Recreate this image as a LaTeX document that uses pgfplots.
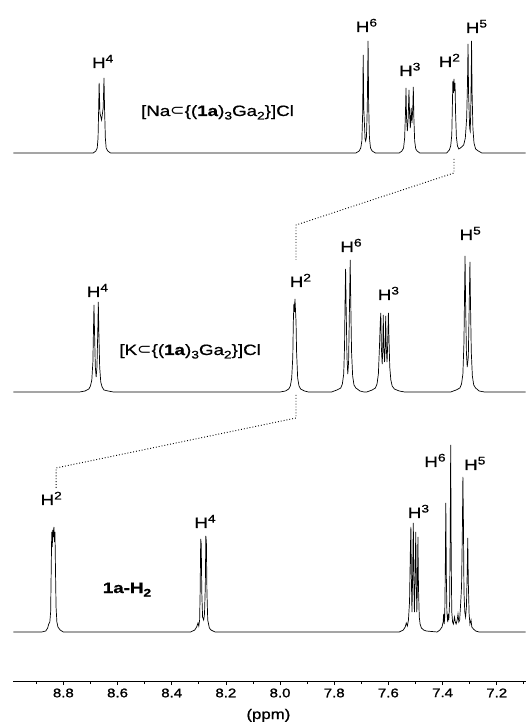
\documentclass[border=0pt]{standalone}
\usepackage{fontspec}
\setmainfont{Liberation Sans}[FakeStretch=1.25,FakeBold=0.7]
\newfontfamily\symfont{DejaVu Sans}[FakeStretch=1.15]
\newfontfamily\tickfont{Liberation Sans}[FakeStretch=1.2,FakeBold=1.2]
\usepackage{pgfplots}
\pgfplotsset{compat=1.18}
\newcommand{\lbl}{\fontsize{15}{15}\selectfont}
\newcommand{\Hl}[1]{H\raisebox{5.5pt}{\fontsize{11}{11}\selectfont #1}}
\newcommand{\sbs}[1]{\raisebox{-3.5pt}{\fontsize{11}{11}\selectfont #1}}
\begin{document}
\begin{tikzpicture}
\begin{axis}[
  scale only axis, width=513pt, height=681pt,
  xmin=7.092, xmax=8.986, ymin=0, ymax=681,
  x dir=reverse,
  hide y axis, axis x line*=bottom,
  axis line style={black, line width=0.8pt},
  clip=false,
  xtick={7.2,7.4,7.6,7.8,8.0,8.2,8.4,8.6,8.8},
  minor xtick={7.1,7.3,7.5,7.7,7.9,8.1,8.3,8.5,8.7,8.9},
  tick align=outside, major tick length=4pt, minor tick length=3pt,
  tick style={black, line width=0.7pt},
  /pgf/number format/assume math mode=true,
  xticklabel={\pgfmathprintnumber[fixed,fixed zerofill,precision=1]{\tick}},
  xticklabel style={font=\tickfont\fontsize{12.5}{13}\selectfont},
]
% top trace: [Na...]Cl, baseline at 528
\addplot[black, line width=0.7pt] table[x index=0, y expr=\thisrowno{1}+528] {
x y
8.985 0
8.690 0
8.680 2
8.675 5
8.672 15
8.670 40
8.668 70
8.665 40
8.659 33
8.653 45
8.650 75
8.648 45
8.645 15
8.642 5
8.636 2
8.626 0
7.720 0
7.708 2
7.702 5
7.698 12
7.695 40
7.693 98
7.691 45
7.686 14
7.684 12
7.681 16
7.678 45
7.675 112
7.673 50
7.670 15
7.666 5
7.660 2
7.648 0
7.560 0
7.550 2
7.544 5
7.540 15
7.537 40
7.535 65
7.533 35
7.530 22
7.527 35
7.524 63
7.522 40
7.519 25
7.516 45
7.513 30
7.510 45
7.508 66
7.506 35
7.503 12
7.499 4
7.494 2
7.484 0
7.385 0
7.375 3
7.370 7
7.366 18
7.364 45
7.362 72
7.360 60
7.358 74
7.356 62
7.354 70
7.352 40
7.349 16
7.345 7
7.340 4
7.334 5
7.322 8
7.316 15
7.311 35
7.308 70
7.306 109
7.304 60
7.300 25
7.298 22
7.296 40
7.294 80
7.293 112
7.291 60
7.288 25
7.284 10
7.278 4
7.268 2
7.255 0
7.093 0
};
% middle trace: [K...]Cl, baseline at 289
\addplot[black, line width=0.7pt] table[x index=0, y expr=\thisrowno{1}+289] {
x y
8.985 0
8.740 0
8.720 1
8.706 3
8.700 6
8.695 12
8.691 30
8.689 60
8.687 87
8.685 60
8.682 25
8.679 15
8.676 25
8.673 60
8.671 90
8.669 60
8.666 25
8.662 10
8.657 5
8.650 2
8.635 1
8.615 0
8.000 0
7.980 1
7.968 3
7.962 6
7.957 14
7.953 35
7.951 70
7.949 88
7.947 80
7.945 93
7.943 82
7.941 70
7.939 40
7.935 14
7.930 6
7.924 3
7.910 1
7.895 0
7.810 0
7.790 2
7.776 4
7.770 8
7.765 18
7.762 45
7.760 90
7.758 123
7.756 85
7.753 35
7.750 18
7.747 30
7.744 80
7.741 132
7.739 90
7.736 40
7.732 16
7.727 7
7.720 4
7.705 1
7.690 0
7.680 0
7.660 2
7.648 4
7.642 8
7.637 18
7.633 45
7.630 70
7.628 79
7.626 45
7.623 28
7.621 40
7.619 77
7.617 45
7.614 30
7.612 45
7.610 76
7.608 45
7.605 30
7.603 45
7.600 79
7.598 55
7.595 25
7.591 12
7.586 6
7.578 3
7.560 1
7.540 0
7.370 0
7.350 2
7.336 4
7.330 8
7.325 18
7.321 50
7.319 95
7.317 136
7.315 90
7.312 40
7.309 25
7.305 35
7.302 80
7.299 130
7.297 90
7.294 40
7.290 16
7.285 7
7.278 4
7.265 1
7.245 0
7.093 0
};
% bottom trace: 1a-H2, baseline at 49
\addplot[black, line width=0.7pt] table[x index=0, y expr=\thisrowno{1}+49] {
x y
8.985 0
8.880 0
8.865 1
8.858 4
8.854 8
8.850 10
8.847 20
8.845 60
8.843 100
8.841 85
8.839 102
8.837 95
8.835 105
8.833 90
8.831 100
8.829 60
8.827 25
8.824 10
8.820 5
8.812 2
8.800 0
8.330 0
8.315 2
8.308 5
8.303 9
8.300 6
8.297 12
8.295 40
8.293 93
8.291 88
8.289 40
8.286 15
8.282 12
8.279 18
8.276 45
8.274 96
8.272 90
8.270 40
8.267 12
8.264 8
8.261 4
8.255 2
8.240 0
7.560 0
7.545 2
7.538 5
7.534 9
7.530 6
7.526 12
7.522 30
7.519 80
7.517 105
7.515 50
7.513 20
7.511 50
7.508 109
7.506 50
7.504 20
7.502 45
7.499 100
7.497 50
7.495 20
7.493 45
7.491 95
7.489 45
7.486 15
7.483 8
7.478 4
7.470 2
7.460 1
7.420 0
7.410 2
7.402 5
7.398 10
7.396 18
7.394 8
7.392 15
7.390 60
7.388 129
7.386 55
7.384 20
7.381 10
7.379 18
7.377 12
7.374 30
7.372 90
7.370 187
7.368 70
7.366 20
7.363 10
7.360 8
7.356 15
7.353 10
7.350 8
7.346 12
7.343 18
7.340 10
7.337 12
7.334 25
7.330 45
7.327 100
7.325 155
7.323 110
7.321 40
7.318 20
7.315 15
7.312 25
7.309 60
7.307 94
7.305 50
7.302 18
7.299 8
7.295 12
7.292 5
7.286 3
7.278 1
7.265 0
7.093 0
};
% dotted correlation lines
\addplot[black, dotted, line width=0.9pt] coordinates {(7.358,522) (7.358,508) (7.941,456) (7.941,421)};
\addplot[black, dotted, line width=0.9pt] coordinates {(7.941,286) (7.941,263) (8.827,213) (8.827,193)};
% labels top
\node[anchor=base, font=\lbl] at (axis cs:8.655,613) {\Hl{4}};
\node[anchor=base, font=\lbl] at (axis cs:7.681,649) {\Hl{6}};
\node[anchor=base, font=\lbl] at (axis cs:7.521,605) {\Hl{3}};
\node[anchor=base, font=\lbl] at (axis cs:7.375,614) {\Hl{2}};
\node[anchor=base, font=\lbl] at (axis cs:7.275,648) {\Hl{5}};
\node[anchor=base, font=\lbl] at (axis cs:8.231,565) {[Na{\symfont ⊂}\{(\textbf{1a})\sbs{3}Ga\sbs{2}\}]Cl};
% labels middle
\node[anchor=base, font=\lbl] at (axis cs:8.674,384) {\Hl{4}};
\node[anchor=base, font=\lbl] at (axis cs:7.925,394) {\Hl{2}};
\node[anchor=base, font=\lbl] at (axis cs:7.738,429) {\Hl{6}};
\node[anchor=base, font=\lbl] at (axis cs:7.600,381) {\Hl{3}};
\node[anchor=base, font=\lbl] at (axis cs:7.298,441) {\Hl{5}};
\node[anchor=base, font=\lbl] at (axis cs:8.332,326) {[K{\symfont ⊂}\{(\textbf{1a})\sbs{3}Ga\sbs{2}\}]Cl};
% labels bottom
\node[anchor=base, font=\lbl] at (axis cs:8.845,176) {\Hl{2}};
\node[anchor=base, font=\lbl] at (axis cs:8.277,153) {\Hl{4}};
\node[anchor=base, font=\lbl] at (axis cs:7.489,163) {\Hl{3}};
\node[anchor=base, font=\lbl] at (axis cs:7.428,214) {\Hl{6}};
\node[anchor=base, font=\lbl] at (axis cs:7.281,211) {\Hl{5}};
\node[anchor=base, font=\lbl\bfseries] at (axis cs:8.565,88) {1a-H\sbs{2}};
% axis label
\node[anchor=base, yshift=-38pt, font=\tickfont\fontsize{14}{14}\selectfont] at (axis cs:8.043,0) {(ppm)};
\end{axis}
\path (current axis.south west) ++(-13pt,-45pt) rectangle (current axis.north east);
\end{tikzpicture}
\end{document}
